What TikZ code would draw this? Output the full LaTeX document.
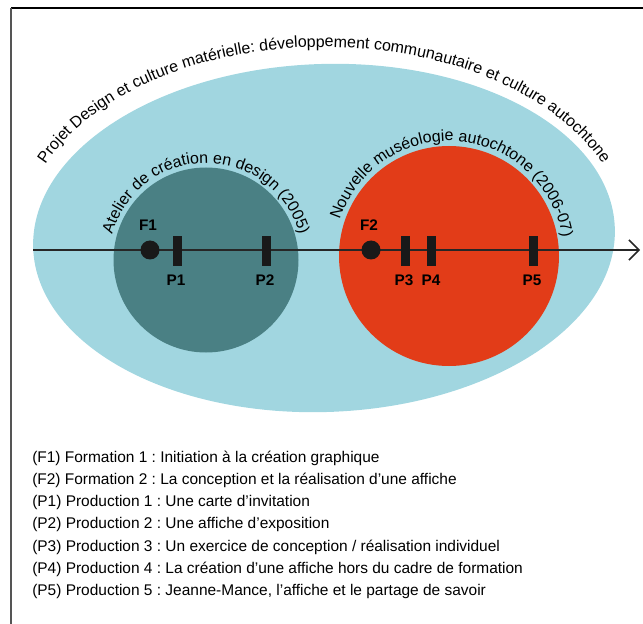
\documentclass[tikz,border=0pt]{standalone}
\usepackage{fontspec}
\setmainfont{Liberation Sans}
\usetikzlibrary{decorations.text,arrows.meta}
\definecolor{projetblue}{HTML}{A1D6E0}
\definecolor{ateliergreen}{HTML}{4A8084}
\definecolor{museored}{HTML}{E23C18}
\definecolor{framegrey}{HTML}{555555}
\newcommand\arcfont{\fontsize{12}{14}\selectfont}
\frenchspacing
\tikzset{
	formation/.style={circle, fill=black!90, inner sep=0pt, minimum size=14.25pt},
	production/.style={rectangle, fill=black!90, inner sep=0pt, minimum width=6.75pt, minimum height=22.5pt},
	marklabel/.style={font=\bfseries\fontsize{11.5}{13}\selectfont, inner sep=0pt},
	legendline/.style={anchor=west, inner sep=0pt, font=\fontsize{11.6}{13}\selectfont},
	arctext/.style={decorate, decoration={text along path, text align=center, text={#1}}}
}

\begin{document}
\begin{tikzpicture}[x=0.75pt, y=0.75pt]
		%%%%% START %%%%%
		\useasboundingbox (0, 0) rectangle (643, -624);
		
		\draw[line width=1.1pt] (11, -8) -- (643, -8);
		\draw[framegrey, line width=1.8pt] (11, -8) -- (11, -624);
		
		\fill[projetblue, rotate around={2:(324, -238)}] (324, -238) ellipse [x radius=291, y radius=174];
		\fill[ateliergreen] (206, -260) circle (92.5);
		\fill[museored] (449, -256) circle (110);
		
		\path[arctext={|\arcfont|Projet Design et culture matérielle: développement communautaire et culture autochtone}]
			([shift={(324, -238)}]168:302 and 191) arc [start angle=168, end angle=12, x radius=302, y radius=191];
		\path[arctext={|\arcfont|Atelier de création en design (2005)}]
			([shift={(206, -260)}]165:97) arc [start angle=165, end angle=15, radius=97];
		\path[arctext={|\arcfont|Nouvelle muséologie autochtone (2006-07)}]
			([shift={(449, -256)}]161:115) arc [start angle=161, end angle=10, radius=115];
		
		\coordinate (axisstart) at (33, -250);
		\coordinate (axisend) at (640, -250);
		\draw[line width=1.1pt, color=black!85, -{Straight Barb[length=7.5pt, width=15pt]}] (axisstart) -- (axisend);
		
		\node[formation] (f1) at (150, -250) {};
		\node[marklabel] (f1label) at (148, -225) {F1};
		\node[production] (p1) at (177.5, -251) {};
		\node[marklabel] (p1label) at (176, -280) {P1};
		\node[production] (p2) at (266, -251) {};
		\node[marklabel] (p2label) at (265, -280) {P2};
		
		\node[formation] (f2) at (371, -250) {};
		\node[marklabel] (f2label) at (369, -225) {F2};
		\node[production] (p3) at (405, -251) {};
		\node[marklabel] (p3label) at (404, -280) {P3};
		\node[production] (p4) at (431, -251) {};
		\node[marklabel] (p4label) at (431, -280) {P4};
		\node[production] (p5) at (533, -251) {};
		\node[marklabel] (p5label) at (532, -280) {P5};
		
		\node[legendline] (legendf1) at (32, -458) {(F1) Formation 1 : Initiation à la création graphique};
		\node[legendline] (legendf2) at (32, -480.3) {(F2) Formation 2 : La conception et la réalisation d’une affiche};
		\node[legendline] (legendp1) at (32, -502.6) {(P1) Production 1 : Une carte d’invitation};
		\node[legendline] (legendp2) at (32, -524.9) {(P2) Production 2 : Une affiche d’exposition};
		\node[legendline] (legendp3) at (32, -547.2) {(P3) Production 3 : Un exercice de conception / réalisation individuel};
		\node[legendline] (legendp4) at (32, -569.5) {(P4) Production 4 : La création d’une affiche hors du cadre de formation};
		\node[legendline] (legendp5) at (32, -591.8) {(P5) Production 5 : Jeanne-Mance, l’affiche et le partage de savoir};
		
		%%%%% END %%%%%
	\end{tikzpicture}
\end{document}
